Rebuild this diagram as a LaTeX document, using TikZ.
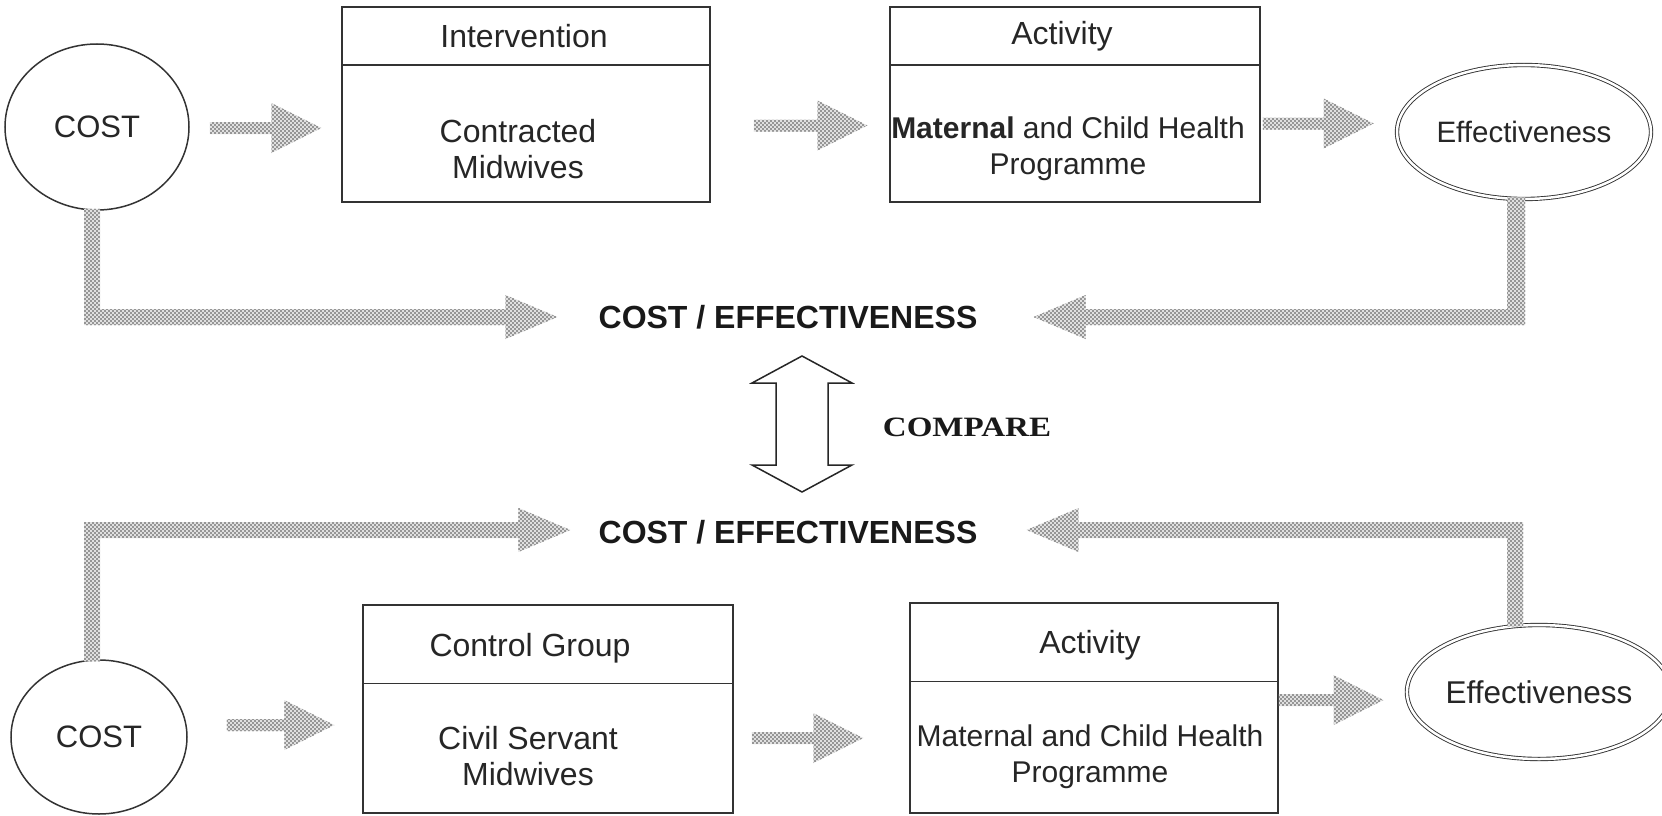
\documentclass[tikz,border=0pt]{standalone}
\usepackage{fontspec}
\setmainfont{Liberation Sans}
\newfontfamily\serifbold{Liberation Serif}
\usepackage{graphicx}
\usetikzlibrary{shapes.geometric,calc,patterns}

\pgfdeclarepatternformonly{halftone}{\pgfqpoint{-1pt}{-1pt}}{\pgfqpoint{5pt}{5pt}}{\pgfqpoint{4pt}{4pt}}{%
  \pgfpathcircle{\pgfqpoint{1pt}{1pt}}{0.85pt}%
  \pgfpathcircle{\pgfqpoint{3pt}{3pt}}{0.85pt}%
  \pgfusepath{fill}%
}

\tikzset{
  dotfill/.style={fill=black!12, postaction={pattern=halftone, pattern color=black!70}},
  txt/.style={font=\fontsize{32}{36}\selectfont, text=black!85, inner sep=0pt, align=center},
  smalltxt/.style={font=\fontsize{30}{36}\selectfont, text=black!85, inner sep=0pt, align=center},
  boldtxt/.style={font=\fontsize{32}{38}\selectfont\bfseries, text=black!90, inner sep=0pt},
  box/.style={draw=black!80, line width=1.5pt, rectangle, inner sep=0pt},
  boxline/.style={draw=black!80, line width=1.5pt},
  costnode/.style={draw=black!80, line width=1.5pt, ellipse, inner sep=0pt, font=\fontsize{31}{36}\selectfont, text=black!85},
  effnode/.style={draw=black!80, double=white, double distance=2.5pt, line width=0.9pt, ellipse, inner sep=0pt, text=black!85},
}

\newcommand{\rdotarrow}[2]{%
  \fill[dotfill] ($(#1)+(0,-6)$) -- ($(#2)+(-50,-6)$) -- ($(#2)+(-50,-25)$) -- (#2) -- ($(#2)+(-50,25)$) -- ($(#2)+(-50,6)$) -- ($(#1)+(0,6)$) -- cycle;}

\begin{document}
\begin{tikzpicture}[x=1pt,y=-1pt]
\useasboundingbox (0,0) rectangle (1662,816);
\fill[white] (0,0) rectangle (1662,816);

% ---------- top row ----------
\node[costnode, minimum width=184pt, minimum height=166pt] (c1) at (97,127) {COST};

\node[box, minimum width=368pt, minimum height=195pt] (int) at (526,104.5) {};
\draw[boxline] ($(int.north west)+(0,59)$) -- ($(int.north east)+(0,59)$);
\node[txt] (intH) at (524,36) {Intervention};
\node[txt] (intB) at (518,149) {Contracted\\Midwives};

\node[box, minimum width=370pt, minimum height=195pt] (act1) at (1075,104.5) {};
\draw[boxline] ($(act1.north west)+(0,59)$) -- ($(act1.north east)+(0,59)$);
\node[txt] (act1H) at (1062,36) {Activity};
\node[smalltxt] (act1B) at (1068,149) {\textbf{Maternal} and Child Health\\Programme};

\node[effnode, minimum width=254pt, minimum height=134pt, font=\fontsize{29.5}{34}\selectfont] (e1) at (1524,132) {Effectiveness};

\coordinate (a1s) at ($(c1.east)+(20,1)$);
\coordinate (a1e) at ($(c1.east -| int.west)+(-20,1)$);
\rdotarrow{a1s}{a1e}
\coordinate (a2s) at ($(int.east)+(43,21)$);
\coordinate (a2e) at ($(int.east -| act1.west)+(-22,21)$);
\rdotarrow{a2s}{a2e}
\coordinate (a3s) at ($(act1.east)+(2,19)$);
\coordinate (a3e) at ($(act1.east -| e1.west)+(-23,19)$);
\rdotarrow{a3s}{a3e}

% ---------- middle ----------
\node[boldtxt] (ce1) at (788,317) {COST / EFFECTIVENESS};
\node[boldtxt] (ce2) at (788,532) {COST / EFFECTIVENESS};

\coordinate (t1) at ($(ce1.west)+(-41,0)$);
\fill[dotfill] ($(c1.south)+(-13,-2)$) |- ($(t1)+(-52,8)$) -- ($(t1)+(-52,22)$) -- (t1) -- ($(t1)+(-52,-22)$) -- ($(t1)+(-52,-8)$) -| ($(c1.south)+(3,-2)$) -- cycle;

\coordinate (t2) at ($(ce1.east)+(56,0)$);
\fill[dotfill] ($(e1.south)+(1,-2)$) |- ($(t2)+(52,8)$) -- ($(t2)+(52,22)$) -- (t2) -- ($(t2)+(52,-22)$) -- ($(t2)+(52,-8)$) -| ($(e1.south)+(-17,-2)$) -- cycle;

\coordinate (cmp) at (802,424);
\draw[line width=1.5pt, draw=black!85, line join=miter]
  ($(cmp)+(0,-68)$) -- ($(cmp)+(50,-41)$) -- ($(cmp)+(26,-41)$) -- ($(cmp)+(26,41)$) -- ($(cmp)+(50,41)$) --
  ($(cmp)+(0,68)$) -- ($(cmp)+(-50,41)$) -- ($(cmp)+(-26,41)$) -- ($(cmp)+(-26,-41)$) -- ($(cmp)+(-50,-41)$) -- cycle;
\node[font={\serifbold\fontsize{28}{32}\selectfont\bfseries}, text=black!90, inner sep=0pt] (cmpT) at (967,427) {\scalebox{1.18}[1]{COMPARE}};

% ---------- bottom row ----------
\node[costnode, minimum width=176pt, minimum height=154pt] (c2) at (99,737) {COST};

\node[box, minimum width=370pt, minimum height=208pt] (ctl) at (548,709) {};
\draw[boxline] ($(ctl.north west)+(0,79)$) -- ($(ctl.north east)+(0,79)$);
\node[txt] (ctlH) at (530,648) {Control Group};
\node[txt] (ctlB) at (528,756) {Civil Servant\\Midwives};

\node[box, minimum width=368pt, minimum height=210pt] (act2) at (1094,708) {};
\draw[boxline] ($(act2.north west)+(0,79)$) -- ($(act2.north east)+(0,79)$);
\node[txt] (act2H) at (1090,645) {Activity};
\node[smalltxt] (act2B) at (1090,757) {Maternal and Child Health\\Programme};

\node[effnode, minimum width=248pt, minimum height=134pt, font=\fontsize{31.5}{36}\selectfont] (e2) at (1539,692) {Effectiveness};

\coordinate (a4s) at ($(c2.east)+(39,-12)$);
\coordinate (a4e) at ($(c2.east -| ctl.west)+(-28,-12)$);
\rdotarrow{a4s}{a4e}
\coordinate (a5s) at ($(ctl.east)+(18,29)$);
\coordinate (a5e) at ($(ctl.east -| act2.west)+(-46,29)$);
\rdotarrow{a5s}{a5e}
\coordinate (a6s) at ($(act2.east)+(0,-8)$);
\coordinate (a6e) at ($(act2.east -| e2.west)+(-23,-8)$);
\rdotarrow{a6s}{a6e}

\coordinate (t3) at ($(ce2.west)+(-28,-2)$);
\fill[dotfill] ($(c2.north)+(-15,2)$) |- ($(t3)+(-52,-8)$) -- ($(t3)+(-52,-22)$) -- (t3) -- ($(t3)+(-52,22)$) -- ($(t3)+(-52,8)$) -| ($(c2.north)+(1,2)$) -- cycle;

\coordinate (t4) at ($(ce2.east)+(49,-2)$);
\fill[dotfill] ($(e2.north)+(-16,2)$) |- ($(t4)+(52,-8)$) -- ($(t4)+(52,-22)$) -- (t4) -- ($(t4)+(52,22)$) -- ($(t4)+(52,8)$) -| ($(e2.north)+(-32,2)$) -- cycle;

\end{tikzpicture}
\end{document}
